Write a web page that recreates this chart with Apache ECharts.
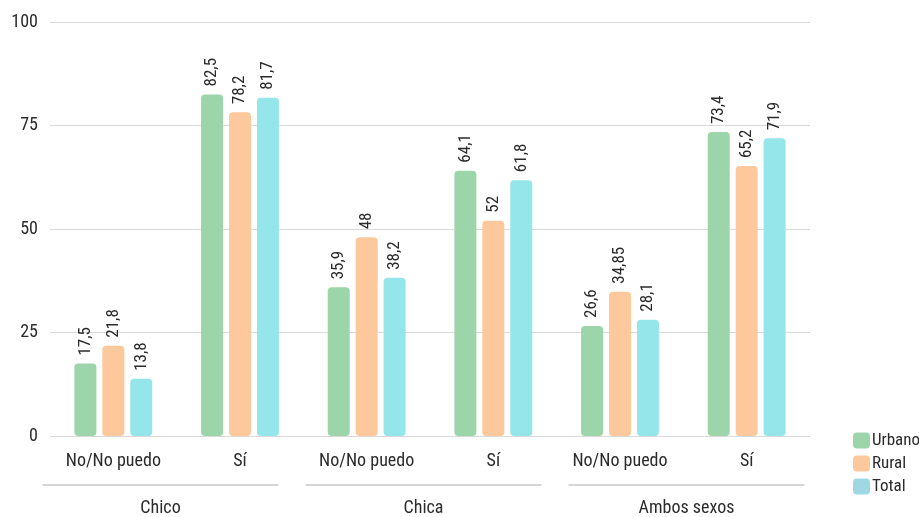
<!DOCTYPE html>
<html>
<head>
<meta charset="utf-8">
<script src="https://cdn.jsdelivr.net/npm/echarts@6/dist/echarts.min.js"></script>
<style>
html,body{margin:0;padding:0;background:#fff;}
#chart{width:919px;height:517px;}
</style>
</head>
<body>
<div id="chart"></div>
<script>
const categories = ['No/No puedo', 'Sí', 'No/No puedo', 'Sí', 'No/No puedo', 'Sí'];
const groups = ['Chico', 'Chica', 'Ambos sexos'];
const urbano = [17.5, 82.5, 35.9, 64.1, 26.6, 73.4];
const rural = [21.8, 78.2, 48, 52, 34.85, 65.2];
const total = [13.8, 81.7, 38.2, 61.8, 28.1, 71.9];
const seriesNames = ['Urbano', 'Rural', 'Total'];
const yTicks = [0, 25, 50, 75, 100];

const FONT = "'Roboto Condensed', 'DejaVu Sans Condensed', sans-serif";
const TXT = '#2b2b2b';
const colors = ['#9dd5aa', '#fdc89b', '#95e6eb'];
const legendColors = ['#9dd5aa', '#fdc89b', '#9fd8e2'];

const fmt = v => String(v).replace('.', ',');

const chart = echarts.init(document.getElementById('chart'), null, {renderer: 'canvas'});

function mkSeries(name, data, idx) {
  return {
    name: name,
    type: 'bar',
    xAxisIndex: 0,
    yAxisIndex: 0,
    data: data,
    barWidth: 22,
    barGap: '27%',
    itemStyle: {color: colors[idx], borderRadius: 4},
    label: {
      show: true,
      position: 'top',
      rotate: 90,
      align: 'left',
      verticalAlign: 'middle',
      distance: 8,
      fontFamily: FONT,
      fontSize: 17,
      color: TXT,
      formatter: p => fmt(p.value)
    },
    emphasis: {disabled: true}
  };
}

const option = {
  animation: false,
  backgroundColor: '#ffffff',
  textStyle: {fontFamily: FONT},
  grid: [
    {left: 50, right: 109, top: 22, bottom: 81, containLabel: false},
    {left: 29, width: 789, top: 22, bottom: 81, containLabel: false}
  ],
  legend: {
    orient: 'vertical',
    left: 848,
    top: 427,
    itemWidth: 17,
    itemHeight: 16,
    itemGap: 6,
    icon: 'roundRect',
    textStyle: {fontFamily: FONT, fontSize: 17, color: TXT, padding: [0, 0, 0, -3]},
    data: seriesNames.map((n, i) => ({name: n, itemStyle: {color: legendColors[i]}}))
  },
  xAxis: [
    {
      type: 'category',
      gridIndex: 0,
      data: categories,
      axisLine: {show: false},
      axisTick: {show: false},
      axisLabel: {fontFamily: FONT, fontSize: 18, color: TXT, margin: 16, interval: 0}
    },
    {
      type: 'category',
      gridIndex: 1,
      data: groups,
      position: 'bottom',
      offset: 57,
      axisLine: {show: false},
      axisTick: {show: false},
      axisLabel: {fontFamily: FONT, fontSize: 18, color: TXT, margin: 8, interval: 0}
    }
  ],
  yAxis: [
    {
      type: 'value',
      gridIndex: 0,
      min: 0,
      max: 100,
      interval: 25,
      axisLine: {show: false},
      axisTick: {show: false},
      splitLine: {lineStyle: {color: '#d9d9d9', width: 1}},
      axisLabel: {fontFamily: FONT, fontSize: 18, color: TXT, margin: 12,
        formatter: v => yTicks.includes(v) ? String(v) : ''}
    },
    {
      type: 'value',
      gridIndex: 1,
      min: 0,
      max: 100,
      show: false
    }
  ],
  series: [
    mkSeries(seriesNames[0], urbano, 0),
    mkSeries(seriesNames[1], rural, 1),
    mkSeries(seriesNames[2], total, 2)
  ]
};

chart.setOption(option);

// group separator lines under each pair of categories
const y0 = chart.convertToPixel({yAxisIndex: 0}, 0);
const half = 118;
const lines = groups.map((g, i) => {
  const cx = chart.convertToPixel({xAxisIndex: 1}, g);
  return {
    type: 'line',
    shape: {x1: cx - half, y1: y0 + 49, x2: cx + half, y2: y0 + 49},
    style: {stroke: '#c8c8c8', lineWidth: 1.5}
  };
});
chart.setOption({graphic: lines});
</script>
</body>
</html>
